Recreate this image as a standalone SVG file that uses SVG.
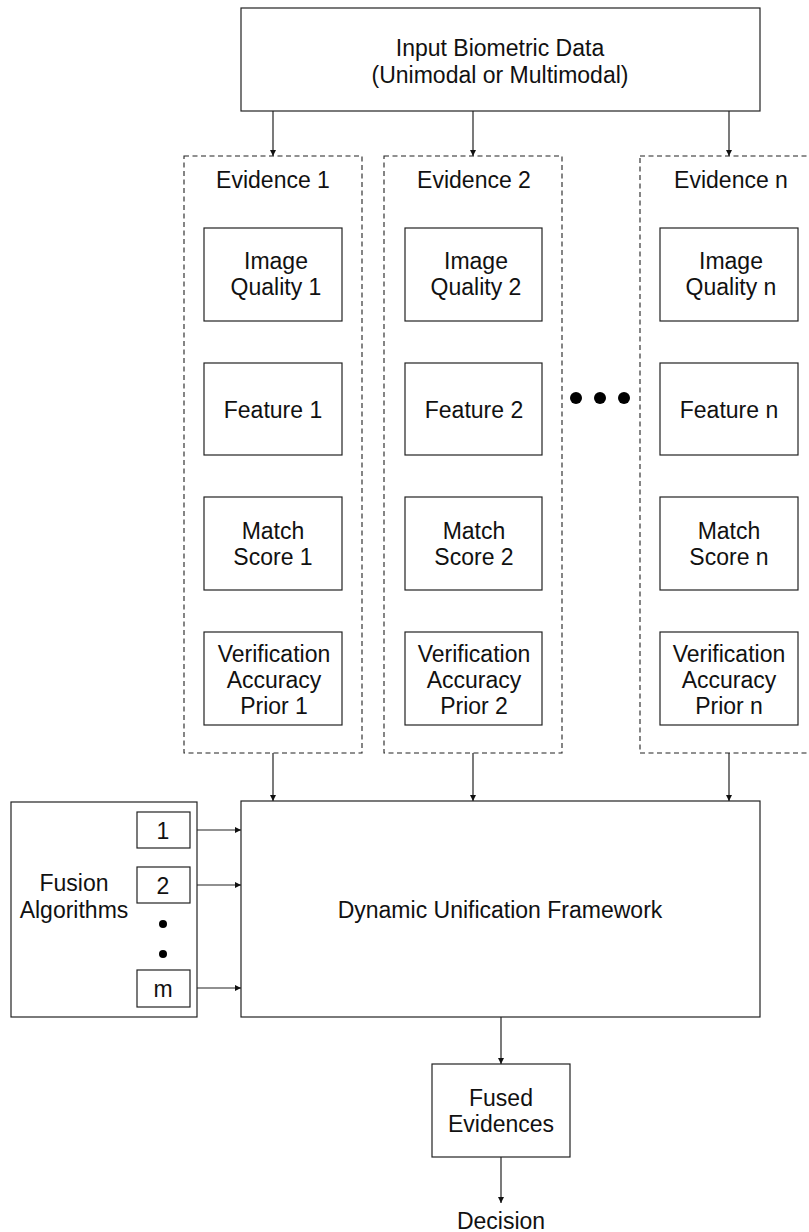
<svg xmlns="http://www.w3.org/2000/svg" width="809" height="1232" viewBox="0 0 809 1232">
<defs>
<style>
.box{fill:#fff;stroke:#222;stroke-width:1.2}
.dash{fill:none;stroke:#222;stroke-width:1.1;stroke-dasharray:5 3.5}
.t{font-family:"Liberation Sans",Arial,sans-serif;font-size:23px;fill:#111;text-anchor:middle}
.ln{stroke:#222;stroke-width:1.2;fill:none;marker-end:url(#ah)}
.dot{fill:#000}
</style>
<marker id="ah" markerWidth="6" markerHeight="6" refX="6" refY="3" orient="auto" markerUnits="userSpaceOnUse">
<path d="M0,0 L6,3 L0,6 Z" fill="#111"/>
</marker>
</defs>
<rect width="809" height="1232" fill="#fff"/>

<g id="input">
<rect class="box" x="241" y="8" width="519" height="103"/>
<text class="t" x="500" y="56">Input Biometric Data</text>
<text class="t" x="500" y="83">(Unimodal or Multimodal)</text>
</g>

<g id="evidence1">
<rect class="dash" x="184" y="156" width="178" height="597"/>
<text class="t" x="273" y="188">Evidence 1</text>
<g id="iq1"><rect class="box" x="204" y="228" width="138" height="93"/><text class="t" x="276" y="269">Image</text><text class="t" x="276" y="295">Quality 1</text></g>
<g id="feat1"><rect class="box" x="204" y="363" width="138" height="92"/><text class="t" x="273" y="418">Feature 1</text></g>
<g id="ms1"><rect class="box" x="204" y="497" width="138" height="93"/><text class="t" x="273" y="539">Match</text><text class="t" x="273" y="565">Score 1</text></g>
<g id="vap1"><rect class="box" x="204" y="632" width="138" height="93"/><text class="t" x="274" y="662">Verification</text><text class="t" x="274" y="688">Accuracy</text><text class="t" x="274" y="714">Prior 1</text></g>
</g>

<g id="evidence2">
<rect class="dash" x="384" y="156" width="178" height="597"/>
<text class="t" x="474" y="188">Evidence 2</text>
<g id="iq2"><rect class="box" x="405" y="228" width="137" height="93"/><text class="t" x="476" y="269">Image</text><text class="t" x="476" y="295">Quality 2</text></g>
<g id="feat2"><rect class="box" x="405" y="363" width="137" height="92"/><text class="t" x="474" y="418">Feature 2</text></g>
<g id="ms2"><rect class="box" x="405" y="497" width="137" height="93"/><text class="t" x="474" y="539">Match</text><text class="t" x="474" y="565">Score 2</text></g>
<g id="vap2"><rect class="box" x="405" y="632" width="137" height="93"/><text class="t" x="474" y="662">Verification</text><text class="t" x="474" y="688">Accuracy</text><text class="t" x="474" y="714">Prior 2</text></g>
</g>

<g id="ellipsis">
<circle class="dot" cx="576" cy="398" r="6"/>
<circle class="dot" cx="600" cy="398" r="6"/>
<circle class="dot" cx="624" cy="398" r="6"/>
</g>

<g id="evidencen">
<rect class="dash" x="640" y="156" width="180" height="597"/>
<text class="t" x="731" y="188">Evidence n</text>
<g id="iqn"><rect class="box" x="660" y="228" width="138" height="93"/><text class="t" x="731" y="269">Image</text><text class="t" x="731" y="295">Quality n</text></g>
<g id="featn"><rect class="box" x="660" y="363" width="138" height="92"/><text class="t" x="729" y="418">Feature n</text></g>
<g id="msn"><rect class="box" x="660" y="497" width="138" height="93"/><text class="t" x="729" y="539">Match</text><text class="t" x="729" y="565">Score n</text></g>
<g id="vapn"><rect class="box" x="660" y="632" width="138" height="93"/><text class="t" x="729" y="662">Verification</text><text class="t" x="729" y="688">Accuracy</text><text class="t" x="729" y="714">Prior n</text></g>
</g>

<g id="fusion">
<rect class="box" x="11" y="802" width="186" height="215"/>
<text class="t" x="74" y="891">Fusion</text>
<text class="t" x="74" y="918">Algorithms</text>
<g id="alg1"><rect class="box" x="137" y="812" width="53" height="36"/><text class="t" x="163" y="839">1</text></g>
<g id="alg2"><rect class="box" x="137" y="867" width="53" height="36"/><text class="t" x="163" y="894">2</text></g>
<circle class="dot" cx="163" cy="924" r="4"/>
<circle class="dot" cx="163" cy="954" r="4"/>
<g id="algm"><rect class="box" x="137" y="970" width="53" height="37"/><text class="t" x="163" y="997">m</text></g>
</g>

<g id="dynamic">
<rect class="box" x="241" y="801" width="519" height="216"/>
<text class="t" x="500" y="918">Dynamic Unification Framework</text>
</g>

<g id="fused">
<rect class="box" x="432" y="1064" width="138" height="93"/>
<text class="t" x="501" y="1106">Fused</text>
<text class="t" x="501" y="1132">Evidences</text>
</g>

<g id="decision">
<text class="t" x="501" y="1229">Decision</text>
</g>

<g id="connectors">
<line class="ln" x1="273" y1="111" x2="273" y2="156"/>
<line class="ln" x1="473" y1="111" x2="473" y2="156"/>
<line class="ln" x1="729" y1="111" x2="729" y2="156"/>
<line class="ln" x1="273" y1="753" x2="273" y2="801"/>
<line class="ln" x1="473" y1="753" x2="473" y2="801"/>
<line class="ln" x1="729" y1="753" x2="729" y2="801"/>
<line class="ln" x1="197" y1="830" x2="241" y2="830"/>
<line class="ln" x1="197" y1="885" x2="241" y2="885"/>
<line class="ln" x1="197" y1="988" x2="241" y2="988"/>
<line class="ln" x1="501" y1="1017" x2="501" y2="1064"/>
<line class="ln" x1="501" y1="1157" x2="501" y2="1203"/>
</g>
</svg>
